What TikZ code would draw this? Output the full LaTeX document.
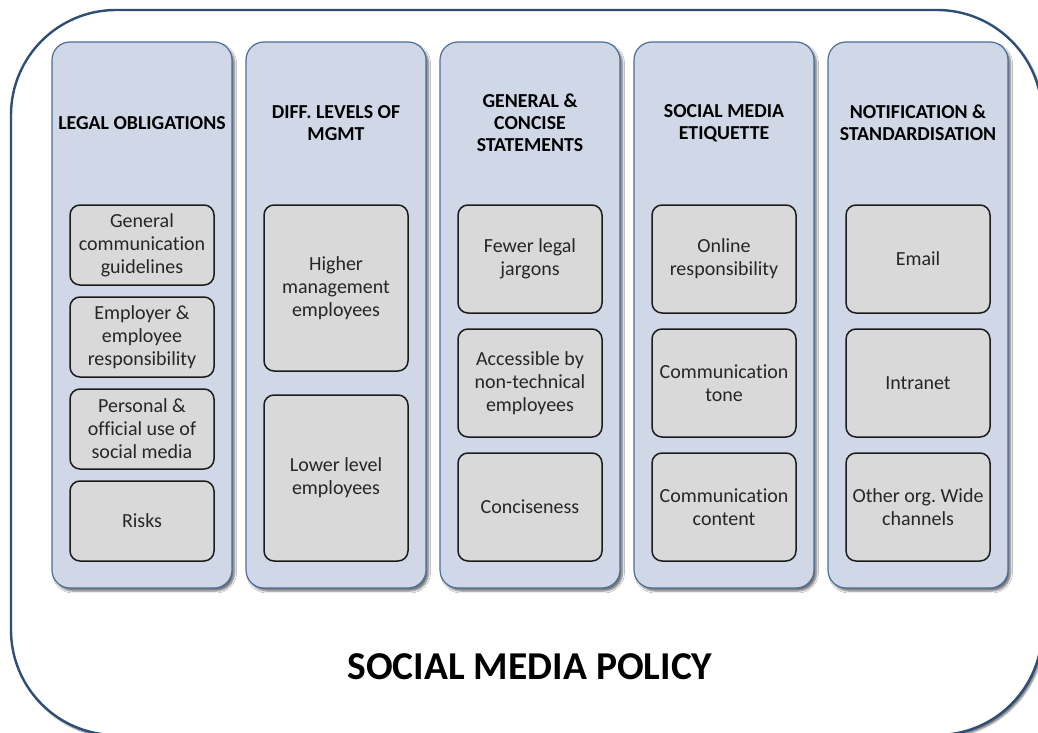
\documentclass[tikz,border=0pt]{standalone}
\usepackage{fontspec}
\setmainfont{Carlito}[Ligatures=NoCommon]
\usetikzlibrary{shadows.blur}
\definecolor{framecol}{HTML}{2D4E77}
\definecolor{colfill}{HTML}{D0D8E7}
\definecolor{coledge}{HTML}{4B6E9C}
\definecolor{itemfill}{HTML}{D9D9D9}
\definecolor{itemedge}{HTML}{1C1C1C}
\definecolor{itemtext}{HTML}{262626}
\begin{document}
\begin{tikzpicture}[x=1pt,y=-1pt,
  frame/.style={draw=framecol, line width=2.4pt, fill=white, rounded corners=105pt,
    blur shadow={shadow xshift=2pt, shadow yshift=-2.5pt, shadow blur steps=6, shadow opacity=60}},
  column/.style={draw=coledge, line width=1.2pt, fill=colfill, rounded corners=18pt,
    minimum width=180pt, minimum height=546pt, inner sep=0pt,
    blur shadow={shadow xshift=2.5pt, shadow yshift=-3pt, shadow blur steps=5, shadow opacity=55}},
  header/.style={align=center, font=\bfseries\fontsize{19.8}{22}\selectfont, text=black, inner sep=0pt},
  item/.style={draw=itemedge, line width=1.5pt, fill=itemfill, rounded corners=10pt,
    minimum width=144pt, inner sep=0pt, align=center, text=itemtext,
    font=\fontsize{20}{23}\selectfont},
  short/.style={item, minimum height=80pt},
  tall/.style={item, minimum height=166pt},
  mid/.style={item, minimum height=108pt},
  title/.style={font=\bfseries\fontsize{39.5}{46}\selectfont, text=black, inner sep=0pt}
]
\useasboundingbox (0,0) rectangle (1038,733);
\begin{scope}
\clip (0,0) rectangle (1038,733);
\draw[frame] (11,10) rectangle (1042,735);
\end{scope}

% five policy columns
\node[column] (c1) at (142,315) {};
\node[column] (c2) at (336,315) {};
\node[column] (c3) at (530,315) {};
\node[column] (c4) at (724,315) {};
\node[column] (c5) at (918,315) {};

% column headings
\node[header] (h1) at (142,123) {LEGAL OBLIGATIONS};
\node[header] (h2) at (336,123) {DIFF. LEVELS OF\\MGMT};
\node[header] (h3) at (530,123) {GENERAL \&\\CONCISE\\STATEMENTS};
\node[header] (h4) at (724,123) {SOCIAL MEDIA\\ETIQUETTE};
\node[header] (h5) at (918,123) {NOTIFICATION \&\\STANDARDISATION};

% legal obligations
\node[short] (a1) at (142,245) {General\\communication\\guidelines};
\node[short] (a2) at (142,337) {Employer \&\\employee\\responsibility};
\node[short] (a3) at (142,429) {Personal \&\\official use of\\social media};
\node[short] (a4) at (142,521) {Risks};

% levels of management
\node[tall] (b1) at (336,288) {Higher\\management\\employees};
\node[tall] (b2) at (336,478) {Lower level\\employees};

% general and concise statements
\node[mid] (d1) at (530,259) {Fewer legal\\jargons};
\node[mid] (d2) at (530,383) {Accessible by\\non-technical\\employees};
\node[mid] (d3) at (530,507) {Conciseness};

% etiquette
\node[mid] (e1) at (724,259) {Online\\responsibility};
\node[mid] (e2) at (724,383) {Communication\\tone};
\node[mid] (e3) at (724,507) {Communication\\content};

% notification channels
\node[mid] (f1) at (918,259) {Email};
\node[mid] (f2) at (918,383) {Intranet};
\node[mid] (f3) at (918,507) {Other org.\ Wide\\channels};

\node[title] (t) at (530,667) {SOCIAL MEDIA POLICY};
\end{tikzpicture}
\end{document}
